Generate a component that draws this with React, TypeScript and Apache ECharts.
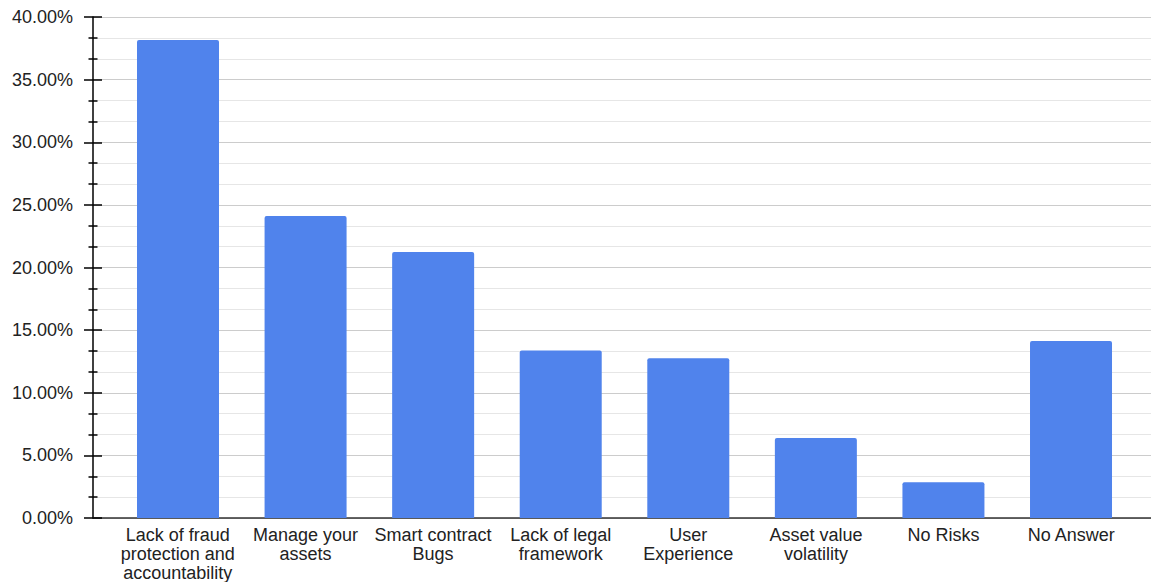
import React, { useEffect, useRef } from "react";
import * as echarts from "echarts";

const categories = [
  "Lack of fraud\nprotection and\naccountability",
  "Manage your\nassets",
  "Smart contract\nBugs",
  "Lack of legal\nframework",
  "User\nExperience",
  "Asset value\nvolatility",
  "No Risks",
  "No Answer",
];
const shares = [38.16, 24.11, 21.24, 13.38, 12.75, 6.39, 2.85, 14.13];
const yMin = 0;
const yMax = 40;
const yStep = 5;

const FONT = "'Liberation Sans', Arial, sans-serif";

export default function App() {
  const ref = useRef<HTMLDivElement>(null);
  useEffect(() => {
    if (!ref.current) return;
    const chart = echarts.init(ref.current, undefined, { renderer: "svg" });
    const barData = shares.map((v, i) => [i, v]);
    chart.setOption({
      animation: false,
      backgroundColor: "#ffffff",
      textStyle: { fontFamily: FONT },
      grid: [
        { left: 93, right: 0, top: 17, bottom: 64 },
        { left: 114, right: 16, top: 17, bottom: 64 },
      ],
      xAxis: [
        {
          type: "value",
          gridIndex: 0,
          min: -0.6663,
          max: 7.627,
          axisLine: { show: true, onZero: false, lineStyle: { color: "#333333", width: 1.5 } },
          axisTick: { show: false },
          axisLabel: { show: false },
          splitLine: { show: false },
        },
        {
          type: "category",
          gridIndex: 1,
          data: categories,
          axisLine: { show: false, onZero: false },
          axisTick: { show: false },
          axisLabel: {
            interval: 0,
            margin: 10,
            color: "#222222",
            fontSize: 18,
            lineHeight: 19,
            fontFamily: FONT,
          },
        },
      ],
      yAxis: [
        {
          type: "value",
          gridIndex: 0,
          position: "left",
          min: yMin,
          max: yMax,
          interval: yStep,
          axisLine: { show: true, onZero: false, lineStyle: { color: "#000000", width: 1.5 } },
          axisTick: { show: true, length: 9, lineStyle: { color: "#000000", width: 1.5 } },
          minorTick: { show: true, splitNumber: 3, length: 4.5, lineStyle: { color: "#000000", width: 1.5 } },
          splitLine: { show: true, lineStyle: { color: "#cccccc", width: 1.2 } },
          minorSplitLine: { show: true, lineStyle: { color: "#e6e6e6", width: 1.2 } },
          axisLabel: {
            margin: 20,
            color: "#222222",
            fontSize: 18,
            fontFamily: FONT,
            formatter: (v: number) => v.toFixed(2) + "%",
          },
        },
        {
          type: "value",
          gridIndex: 0,
          position: "left",
          offset: 0,
          min: yMin,
          max: yMax,
          interval: yStep,
          axisLine: { show: false, onZero: false },
          axisTick: { show: true, inside: true, length: 9, lineStyle: { color: "#000000", width: 1.5 } },
          minorTick: { show: true, splitNumber: 3, length: 4.5, lineStyle: { color: "#000000", width: 1.5 } },
          splitLine: { show: false },
          axisLabel: { show: false },
        },
        {
          type: "value",
          gridIndex: 1,
          min: yMin,
          max: yMax,
          show: false,
          splitLine: { show: false },
        },
      ],
      series: [
        {
          type: "bar",
          xAxisIndex: 0,
          yAxisIndex: 0,
          data: barData,
          barWidth: 82,
          itemStyle: { color: "#5083ec", borderRadius: [2, 2, 0, 0] },
        },
      ],
    });
    return () => chart.dispose();
  }, []);
  return (
    <div
      ref={ref}
      style={{ position: "fixed", left: 0, top: 0, width: 1151, height: 582 }}
    />
  );
}
